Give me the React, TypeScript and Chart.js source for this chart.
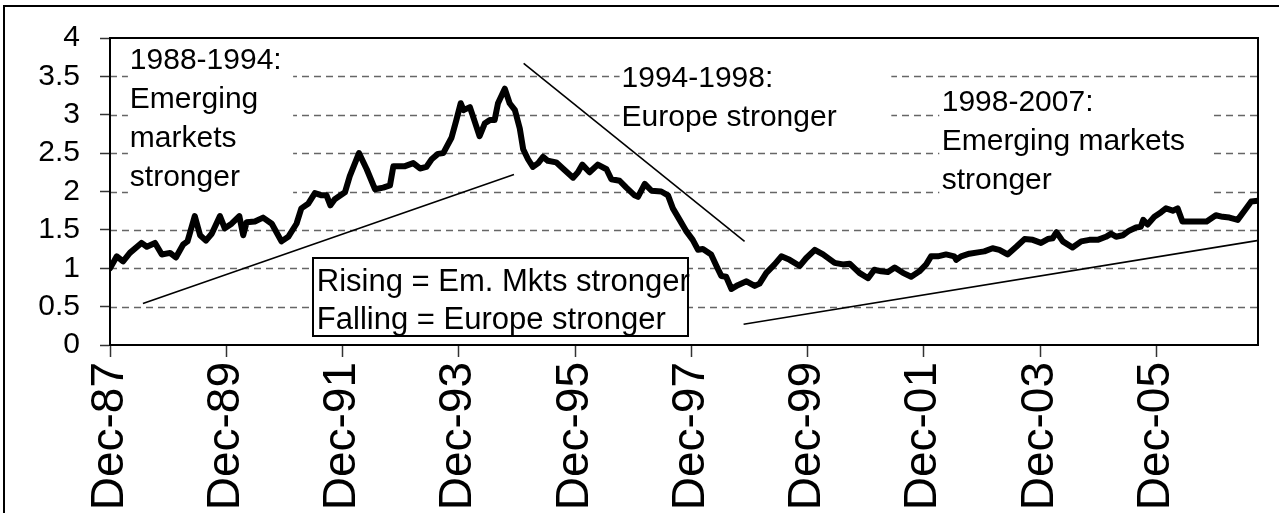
import { useEffect, useRef } from "react";
import { Chart, registerables } from "chart.js";

Chart.register(...registerables);

// Months since Dec-1987 and the ratio
const monthOffsets = [
  0, 1.4, 2.7, 4.1, 6.5, 7.6, 9.3, 10.7, 12.4, 13.6, 15.1, 16, 17.5, 18.6, 19.8, 21, 22.7, 23.7, 25.1, 26.7,
  27.5, 28.2, 29.9, 31.6, 33.4, 35.4, 36.8, 38.5, 39.5, 40.9, 42.3, 43.7, 44.7, 45.5, 46.4, 48.5, 49.5, 51.4,
  53, 54.7, 56.4, 57.8, 58.5, 60.9, 62.6, 64, 65.3, 66.4, 67.7, 68.8, 70.5, 71.5, 72.4, 73, 74.3, 75.3, 76.3,
  77.4, 78.4, 79.4, 80.1, 81.5, 82.5, 83.6, 84.6, 85.3, 86.3, 87.3, 88.4, 89.4, 90.4, 92.1, 93.5, 95.6, 96.6,
  97.5, 99, 100.7, 102.5, 103.5, 105.2, 106.6, 108.3, 109, 110.4, 111.8, 113.8, 115.2, 116.2, 117.6, 119,
  120.3, 121.4, 122.4, 124.1, 125.2, 126.2, 127.2, 128.3, 129.6, 131.4, 133.1, 134.1, 135.5, 137.2, 138.6,
  140.3, 142.4, 143.7, 145.5, 147.2, 149.6, 151.3, 152.7, 154.7, 156.5, 157.8, 159.2, 160.6, 162, 163.7,
  165.4, 167.1, 168.5, 169.5, 170.9, 172.6, 174.3, 174.7, 175.7, 177.4, 179.5, 180.5, 182.2, 183.6, 185.3,
  187.1, 188.8, 190.5, 192.2, 193.6, 194.6, 195.4, 196.7, 198.7, 200.5, 202.2, 203.9, 205.6, 206.7, 207.7,
  209.1, 210.4, 211.8, 212.8, 213.3, 214.2, 215.6, 217, 218, 219.4, 220.4, 221.4, 223.2, 224.9, 226.4, 228.3,
  229.7, 231.1, 232.8, 234.2, 235.6, 237,
];
const ratioValues = [
  1.0, 1.155, 1.09, 1.2, 1.33, 1.28, 1.33, 1.18, 1.2, 1.14, 1.31, 1.35, 1.68, 1.43, 1.36, 1.45, 1.68, 1.52, 1.58, 1.68,
  1.43, 1.6, 1.61, 1.66, 1.58, 1.35, 1.41, 1.58, 1.78, 1.84, 1.98, 1.95, 1.95, 1.82, 1.9, 1.99, 2.2, 2.5,
  2.29, 2.03, 2.05, 2.08, 2.33, 2.33, 2.37, 2.3, 2.32, 2.42, 2.49, 2.5, 2.7, 2.93, 3.15, 3.06, 3.1, 2.91, 2.72,
  2.89, 2.93, 2.93, 3.15, 3.34, 3.15, 3.06, 2.82, 2.55, 2.42, 2.32, 2.37, 2.45, 2.4, 2.38, 2.3, 2.18, 2.25,
  2.35, 2.25, 2.35, 2.29, 2.16, 2.14, 2.05, 1.95, 1.93, 2.1, 2.01, 2.0, 1.95, 1.78, 1.63, 1.48,
  1.37, 1.24, 1.25, 1.18, 1.03, 0.9, 0.89, 0.73, 0.78, 0.83, 0.77, 0.8, 0.94, 1.05, 1.155,
  1.11, 1.03, 1.13, 1.24, 1.18, 1.07, 1.05, 1.06, 0.94, 0.87, 0.98, 0.96, 0.95, 1.01, 0.94,
  0.89, 0.96, 1.05, 1.155, 1.155, 1.18, 1.155, 1.11, 1.155, 1.19, 1.21, 1.22, 1.26, 1.24, 1.18,
  1.28, 1.38, 1.37, 1.33, 1.38, 1.39, 1.47, 1.35, 1.27, 1.35, 1.37, 1.37, 1.41, 1.45, 1.41,
  1.43, 1.49, 1.53, 1.54, 1.63, 1.57, 1.67, 1.73, 1.78, 1.75, 1.78, 1.61, 1.61, 1.61, 1.61, 1.69,
  1.67, 1.66, 1.63, 1.75, 1.87, 1.88,
];

const xTickMonths = [0, 24, 48, 72, 96, 120, 144, 168, 192, 216];
const xTickLabels = ["Dec-87", "Dec-89", "Dec-91", "Dec-93", "Dec-95", "Dec-97", "Dec-99", "Dec-01", "Dec-03", "Dec-05"];

// Trend lines (month offset, value)
const trendStartMonth = [6.8, 85.4, 130.8];
const trendStartValue = [0.54, 3.67, 0.27];
const trendEndMonth = [83.4, 131.0, 236.8];
const trendEndValue = [2.22, 1.35, 1.36];

// Text annotations
const noteLines = [
  ["1988-1994:", "Emerging", "markets", "stronger"],
  ["1994-1998:", "Europe stronger"],
  ["1998-2007:", "Emerging markets", "stronger"],
  ["Rising = Em. Mkts stronger", "Falling = Europe stronger"],
];
const noteMonth = [4.1, 105.6, 171.7, 42.7];
const noteValue = [3.59, 3.36, 3.05, 0.705];
const noteBoxMonth0 = [3.7, 105.2, 171.2, 41.9];
const noteBoxMonth1 = [37.8, 161.3, 227.6, 119.3];
const noteBoxValue0 = [3.99, 3.78, 3.4, 1.13];
const noteBoxValue1 = [1.92, 2.69, 1.86, 0.115];
const noteBordered = [false, false, false, true];

const FONT = "'Liberation Sans', Arial, Helvetica, sans-serif";

const overlayPlugin = {
  id: "overlay",
  beforeDatasetsDraw(chart: any) {
    const { ctx, chartArea, scales } = chart;
    const x = scales.x;
    const y = scales.y;
    ctx.save();
    // dashed gridlines
    ctx.strokeStyle = "#666666";
    ctx.lineWidth = 1.4;
    ctx.setLineDash([7, 5]);
    y.ticks.forEach((t: any) => {
      if (t.value === 0 || t.value === 4) return;
      const py = Math.round(y.getPixelForValue(t.value)) + 0.5;
      ctx.beginPath();
      ctx.moveTo(chartArea.left, py);
      ctx.lineTo(chartArea.right, py);
      ctx.stroke();
    });
    ctx.setLineDash([]);
    // white note boxes
    for (let i = 0; i < noteLines.length; i++) {
      const x0 = x.getPixelForValue(noteBoxMonth0[i]);
      const x1 = x.getPixelForValue(noteBoxMonth1[i]);
      const y0 = y.getPixelForValue(noteBoxValue0[i]);
      const y1 = y.getPixelForValue(noteBoxValue1[i]);
      ctx.fillStyle = "#ffffff";
      ctx.fillRect(x0, y0, x1 - x0, y1 - y0);
      if (noteBordered[i]) {
        ctx.strokeStyle = "#000";
        ctx.lineWidth = 2;
        ctx.strokeRect(Math.round(x0), Math.round(y0), Math.round(x1 - x0), Math.round(y1 - y0));
      }
    }
    // trend lines
    ctx.strokeStyle = "#000";
    ctx.lineWidth = 1.6;
    for (let i = 0; i < trendStartMonth.length; i++) {
      ctx.beginPath();
      ctx.moveTo(x.getPixelForValue(trendStartMonth[i]), y.getPixelForValue(trendStartValue[i]));
      ctx.lineTo(x.getPixelForValue(trendEndMonth[i]), y.getPixelForValue(trendEndValue[i]));
      ctx.stroke();
    }
    // note texts
    ctx.fillStyle = "#000";
    ctx.textAlign = "left";
    ctx.textBaseline = "alphabetic";
    for (let i = 0; i < noteLines.length; i++) {
      const size = i === 3 ? 31 : 30;
      const lh = i === 3 ? 38 : 39;
      ctx.font = `${size}px ${FONT}`;
      const px = x.getPixelForValue(noteMonth[i]);
      const py = y.getPixelForValue(noteValue[i]);
      noteLines[i].forEach((line, k) => ctx.fillText(line, px, py + k * lh));
    }
    ctx.restore();
  },
  afterDraw(chart: any) {
    const { ctx, chartArea } = chart;
    ctx.save();
    ctx.strokeStyle = "#000";
    ctx.lineWidth = 2;
    ctx.strokeRect(
      Math.round(chartArea.left),
      Math.round(chartArea.top),
      Math.round(chartArea.right - chartArea.left),
      Math.round(chartArea.bottom - chartArea.top)
    );
    // outer frame
    ctx.strokeRect(4, 6, 1400, 700);
    ctx.restore();
  },
};

export default function App() {
  const canvasRef = useRef<HTMLCanvasElement | null>(null);

  useEffect(() => {
    if (!canvasRef.current) return;
    const chart = new Chart(canvasRef.current, {
      type: "line",
      data: {
        datasets: [
          {
            data: monthOffsets.map((m, i) => ({ x: m, y: ratioValues[i] })),
            borderColor: "#000",
            borderWidth: 6,
            pointRadius: 0,
            tension: 0,
            borderJoinStyle: "round",
            borderCapStyle: "round",
          } as any,
        ],
      },
      options: {
        animation: false,
        responsive: true,
        maintainAspectRatio: false,
        layout: { padding: { top: 33, right: 21, left: 0, bottom: 0 } },
        plugins: { legend: { display: false }, tooltip: { enabled: false } },
        scales: {
          x: {
            type: "linear",
            min: 0,
            max: 237,
            afterBuildTicks: (scale: any) => {
              scale.ticks = xTickMonths.map((v) => ({ value: v }));
            },
            afterFit: (scale: any) => {
              scale.height = 168;
            },
            ticks: {
              autoSkip: false,
              maxRotation: 90,
              minRotation: 90,
              padding: 5,
              color: "#000",
              font: { family: FONT, size: 46 },
              callback: (value: any) => {
                const idx = xTickMonths.indexOf(Number(value));
                return idx >= 0 ? xTickLabels[idx] : "";
              },
            },
            grid: {
              drawOnChartArea: false,
              drawTicks: true,
              tickLength: 12,
              tickColor: "#333",
              tickWidth: 1.5,
            },
            border: { display: true, color: "#000", width: 2 },
          },
          y: {
            min: 0,
            max: 4,
            afterFit: (scale: any) => {
              scale.width = 110;
            },
            ticks: {
              stepSize: 0.5,
              autoSkip: false,
              padding: 20,
              color: "#000",
              font: { family: FONT, size: 30 },
              callback: (value: any) => String(Number(value)),
            },
            grid: {
              drawOnChartArea: false,
              drawTicks: true,
              tickLength: 10,
              tickColor: "#333",
              tickWidth: 1.5,
            },
            border: { display: true, color: "#000", width: 2 },
          },
        },
      },
      plugins: [overlayPlugin],
    });
    return () => chart.destroy();
  }, []);

  return (
    <div style={{ position: "fixed", left: 0, top: 0, width: 1279, height: 513, background: "#fff" }}>
      <canvas ref={canvasRef} />
    </div>
  );
}
